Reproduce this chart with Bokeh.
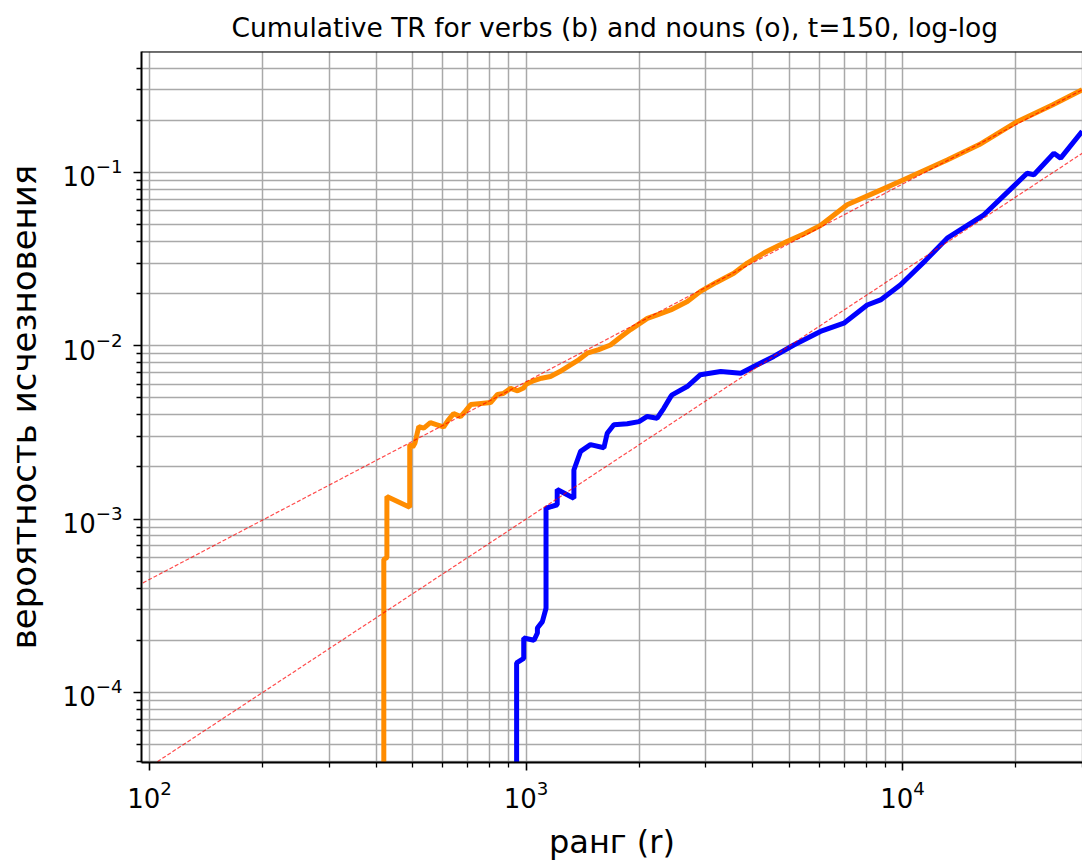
from bokeh.plotting import figure
from bokeh.models import Range1d, FixedTicker, Span
from bokeh.embed import file_html
from bokeh.resources import INLINE

# ---- data (rank r, cumulative TR probability) ----
nouns_rank = [419, 419, 427, 427, 491, 491, 500, 507, 519, 535, 557, 580, 604, 620,
              642, 670, 690, 713, 760, 805, 840, 870, 910, 950, 985, 1000, 1050, 1100,
              1161, 1230, 1313, 1380, 1454, 1560, 1676, 1780, 1895, 2100, 2250, 2423,
              2682, 2907, 3200, 3563, 3870, 4300, 4930, 5500, 6053, 7125, 8500, 10070,
              13140, 16000, 20200, 25000, 30000]
nouns_tr = [1e-6, 5.85e-4, 6.0e-4, 1.35e-3, 1.17e-3, 2.69e-3, 2.6e-3, 2.75e-3, 3.42e-3,
            3.35e-3, 3.6e-3, 3.5e-3, 3.4e-3, 3.7e-3, 4.06e-3, 3.9e-3, 4.2e-3, 4.58e-3,
            4.65e-3, 4.7e-3, 5.24e-3, 5.3e-3, 5.68e-3, 5.5e-3, 5.7e-3, 6.0e-3, 6.3e-3,
            6.5e-3, 6.65e-3, 7.1e-3, 7.76e-3, 8.3e-3, 9.06e-3, 9.5e-3, 0.0101, 0.0112,
            0.0124, 0.0144, 0.0152, 0.0161, 0.0180, 0.0206, 0.0232, 0.0262, 0.030,
            0.0345, 0.040, 0.0445, 0.0495, 0.0652, 0.077, 0.0907, 0.118, 0.145, 0.197,
            0.245, 0.30]

verbs_rank = [944, 944, 986, 986, 1050, 1072, 1072, 1105, 1130, 1130, 1138, 1210, 1210,
              1340, 1340, 1396, 1483, 1610, 1643, 1711, 1857, 1995, 2099, 2230, 2322,
              2423, 2443, 2679, 2906, 3289, 3718, 4027, 4550, 5143, 6053, 6985, 8056,
              8741, 9880, 11500, 13140, 16450, 19000, 21420, 22330, 25230, 26300, 30000]
verbs_tr = [1e-6, 1.48e-4, 1.57e-4, 2.06e-4, 2.0e-4, 2.2e-4, 2.35e-4, 2.56e-4, 3.06e-4,
            1.16e-3, 1.16e-3, 1.21e-3, 1.48e-3, 1.32e-3, 1.92e-3, 2.46e-3, 2.69e-3,
            2.58e-3, 3.13e-3, 3.50e-3, 3.55e-3, 3.65e-3, 3.91e-3, 3.82e-3, 4.36e-3,
            5.09e-3, 5.21e-3, 5.82e-3, 6.81e-3, 7.11e-3, 6.94e-3, 7.6e-3, 8.68e-3,
            0.0101, 0.0121, 0.0135, 0.0172, 0.0184, 0.0225, 0.031, 0.0418, 0.057, 0.077,
            0.099, 0.097, 0.129, 0.121, 0.173]

# power-law fit lines (straight in log-log), given by their end points
nouns_fit_rank = [90, 30000]
nouns_fit_tr = [3.98e-4, 0.30]
verbs_fit_rank = [90, 30000]
verbs_fit_tr = [3.2e-5, 0.129]

# ticks
x_major = [1e2, 1e3, 1e4]
x_minor = [m * 10.0 ** e for e in (1, 2, 3, 4) for m in range(2, 10)]
y_major = [1e-5, 1e-4, 1e-3, 1e-2, 1e-1]
y_minor = [m * 10.0 ** e for e in (-5, -4, -3, -2, -1) for m in range(2, 10)]

FONT = "DejaVu Sans"

p = figure(
    x_axis_type="log", y_axis_type="log",
    x_range=Range1d(95.2, 30060), y_range=Range1d(3.94e-5, 0.499),
    frame_width=941, frame_height=711,
    min_border_left=141, min_border_right=0, min_border_top=50, min_border_bottom=105,
    output_backend="svg", toolbar_location=None,
    title="Cumulative TR for verbs (b) and nouns (o), t=150, log-log",
)
p.background_fill_color = "white"
p.border_fill_color = "white"
p.outline_line_color = None

p.title.text_font = FONT
p.title.text_font_size = "26.5px"
p.title.text_font_style = "normal"
p.title.text_color = "black"
p.title.align = "left"
p.title.offset = 90
p.title.standoff = 18

p.xaxis.ticker = FixedTicker(ticks=x_major, minor_ticks=x_minor)
p.yaxis.ticker = FixedTicker(ticks=y_major, minor_ticks=y_minor)

for ax in (p.xaxis, p.yaxis):
    ax.axis_line_color = "black"
    ax.axis_line_width = 2
    ax.major_tick_line_color = "black"
    ax.major_tick_line_width = 1.6
    ax.minor_tick_line_color = "black"
    ax.minor_tick_line_width = 1.3
    ax.major_tick_in = 0
    ax.major_tick_out = 8
    ax.minor_tick_in = 0
    ax.minor_tick_out = 5
    ax.major_label_text_font = FONT
    ax.major_label_text_font_size = "26px"
    ax.major_label_text_color = "black"
    ax.axis_label_text_font = FONT
    ax.axis_label_text_font_style = "normal"
    ax.axis_label_text_color = "black"

p.xaxis.axis_label = "ранг (r)"
p.yaxis.axis_label = "вероятность исчезновения"
p.xaxis.axis_label_text_font_size = "32px"
p.yaxis.axis_label_text_font_size = "34px"
p.xaxis.major_label_standoff = 9
p.yaxis.major_label_standoff = 11
p.xaxis.axis_label_standoff = 12
p.yaxis.axis_label_standoff = 16

for g in (p.xgrid, p.ygrid):
    g.grid_line_color = "#a9a9a9"
    g.grid_line_width = 1.5
    g.minor_grid_line_color = "#a9a9a9"
    g.minor_grid_line_width = 1.5

p.line(nouns_rank, nouns_tr, line_color="#ff8c00", line_width=5)
p.line(verbs_rank, verbs_tr, line_color="#0000ff", line_width=5)
p.line(nouns_fit_rank, nouns_fit_tr, line_color="red", line_width=1.2,
       line_alpha=0.7, line_dash="4 2")
p.line(verbs_fit_rank, verbs_fit_tr, line_color="red", line_width=1.2,
       line_alpha=0.7, line_dash="4 2")

# top spine
p.add_layout(Span(location=0.499, dimension="width", line_color="black", line_width=2))

open("out.html", "w").write(file_html(p, INLINE))
